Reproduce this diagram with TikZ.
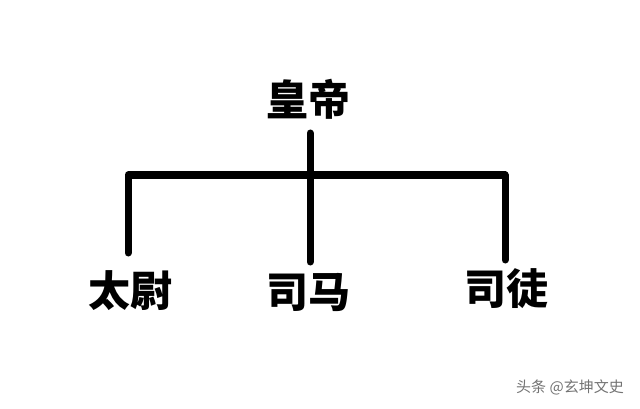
\documentclass[tikz,border=0pt]{standalone}
\usepackage{fontspec}
\newfontfamily\cjk{Noto Sans CJK SC}
\begin{document}
\begin{tikzpicture}[x=1pt,y=-1pt,
  lab/.style={font=\cjk\bfseries\fontsize{42}{42}\selectfont, inner sep=0pt},
  wm/.style={font=\cjk\fontsize{15}{15}\selectfont, text=black!55, inner sep=0pt},
  bar/.style={line width=7pt, line cap=round, line join=round}]
\useasboundingbox (0,0) rectangle (640,409);
\node[lab] (root) at (308.5,99) {皇帝};
\node[lab] (a) at (130,291) {太尉};
\node[lab] (b) at (308.5,293) {司马};
\node[lab] (c) at (506,289) {司徒};
\coordinate (mt) at (310,133);
\coordinate (mb) at (310,262);
\coordinate (jl) at (128,175);
\coordinate (jr) at (505,175);
\coordinate (lb) at (128,253);
\coordinate (rb) at (505,260);
\draw[bar] (mt) -- (mb);
\draw[bar] (lb) -- (jl) -- (jr) -- (rb);
\node[wm] (w) at (570,387) {头条 @玄坤文史};
\end{tikzpicture}
\end{document}
